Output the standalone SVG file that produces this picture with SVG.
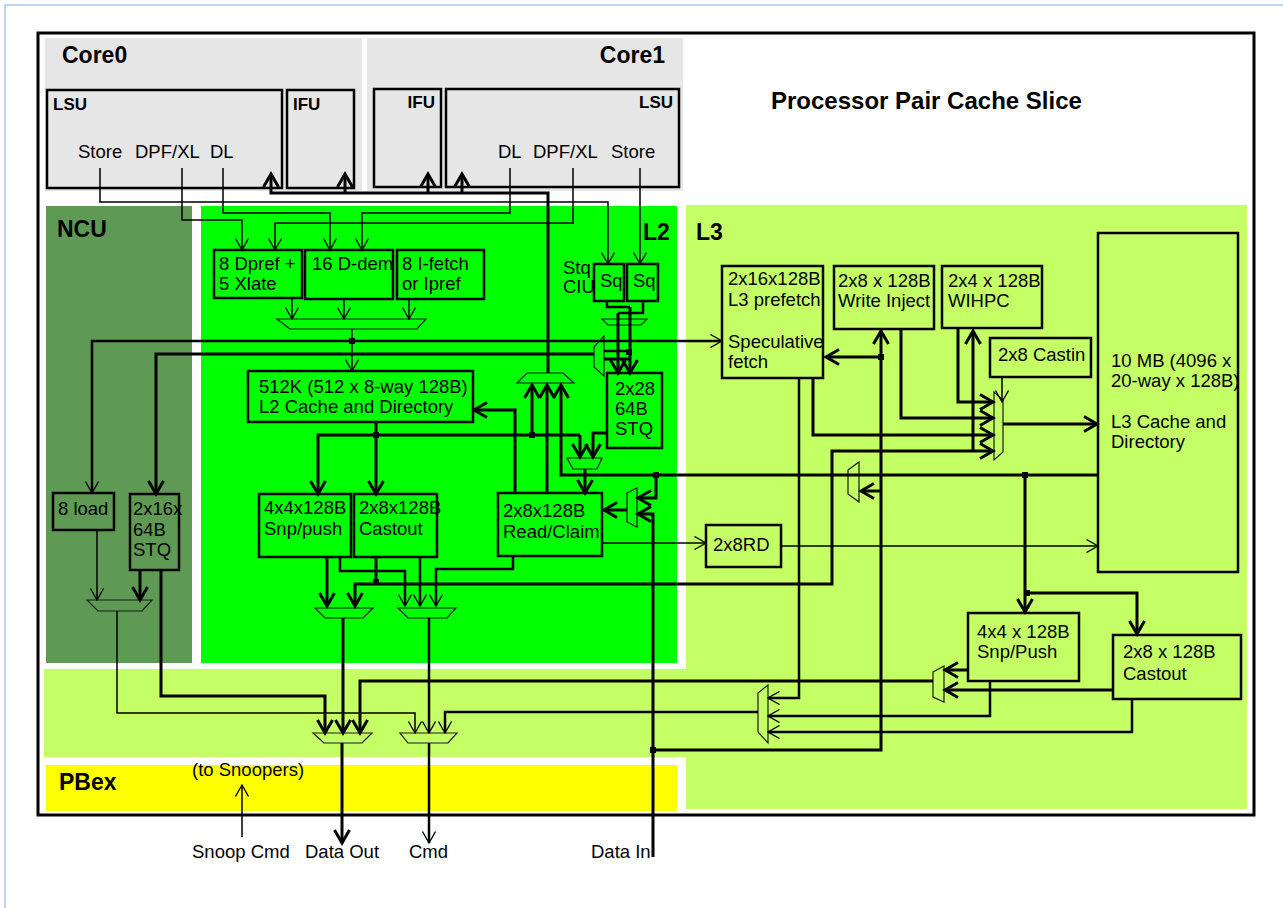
<svg xmlns="http://www.w3.org/2000/svg" width="1283" height="908" viewBox="0 0 1283 908">
<style>
.bx{fill:none;stroke:#000;stroke-width:2.5}
.t{font-family:"Liberation Sans",Arial,sans-serif;font-size:18.5px;fill:#000}
.h{font-family:"Liberation Sans",Arial,sans-serif;font-weight:bold;font-size:23px;fill:#000}
.s{font-family:"Liberation Sans",Arial,sans-serif;font-weight:bold;font-size:17px;fill:#000}
.c1{fill:none;stroke:#000;stroke-width:1.5}
.c2{fill:none;stroke:#000;stroke-width:2.5}
.c3{fill:none;stroke:#000;stroke-width:3}
.mux{fill:none;stroke:#1a1a1a;stroke-width:1.2}
.dot{fill:#000}
.ta{marker-end:url(#a)}
.tA{marker-end:url(#A)}
</style>
<defs>
<marker id="a" markerUnits="userSpaceOnUse" viewBox="0 0 14 14" markerWidth="14" markerHeight="14" refX="12.5" refY="7" orient="auto"><path d="M1,0.5 L12.5,7 L1,13.5" fill="none" stroke="#000" stroke-width="1.3"/></marker>
<marker id="A" markerUnits="userSpaceOnUse" viewBox="0 0 18 18" markerWidth="18" markerHeight="18" refX="15" refY="9" orient="auto"><path d="M2,1.5 L15,9 L2,16.5" fill="none" stroke="#000" stroke-width="3"/></marker>
</defs>
<rect width="1283" height="908" fill="#fff"/>
<path d="M5,908 V5 H1283" fill="none" stroke="#a6c8ee" stroke-width="1.5"/>
<g id="regions">
<rect x="45" y="38" width="317" height="153" fill="#e6e6e6"/>
<rect x="367" y="38" width="316" height="153" fill="#e6e6e6"/>
<rect x="46" y="206" width="146" height="457" fill="#5f9a55"/>
<rect x="201" y="206" width="476" height="457" fill="#00ff00"/>
<rect x="686" y="205" width="561" height="604" fill="#c4ff66"/>
<rect x="44" y="669" width="643" height="88" fill="#c4ff66"/>
<rect x="46" y="765" width="631" height="46" fill="#ffff00"/>
<rect x="38" y="33" width="1216" height="782" fill="none" stroke="#000" stroke-width="3"/>
</g>
<g id="labels">
<text class="t" x="771" y="109" style="font-weight:bold;font-size:24px">Processor Pair Cache Slice</text>
<text class="h" x="62" y="63">Core0</text>
<text class="h" x="665" y="63" text-anchor="end">Core1</text>
<text class="h" x="57" y="237">NCU</text>
<text class="h" x="643" y="240">L2</text>
<text class="h" x="696" y="240">L3</text>
<text class="h" x="59" y="790">PBex</text>
<text class="t" x="192" y="776">(to Snoopers)</text>
<text class="t" x="192" y="858">Snoop Cmd</text>
<text class="t" x="305" y="858">Data Out</text>
<text class="t" x="409" y="858">Cmd</text>
<text class="t" x="591" y="858">Data In</text>
<text class="t" x="563" y="274">Stq</text>
<text class="t" x="563" y="293">CIU</text>
</g>
<g id="core0-lsu">
<rect class="bx" x="47" y="90" width="235" height="98"/>
<text class="s" x="53" y="110">LSU</text>
<text class="t" x="78" y="158">Store</text>
<text class="t" x="135" y="158">DPF/XL</text>
<text class="t" x="210" y="158">DL</text>
</g>
<g id="core0-ifu">
<rect class="bx" x="287" y="90" width="67" height="98"/>
<text class="s" x="293" y="110">IFU</text>
</g>
<g id="core1-ifu">
<rect class="bx" x="374" y="89" width="67" height="98"/>
<text class="s" x="435" y="108" text-anchor="end">IFU</text>
</g>
<g id="core1-lsu">
<rect class="bx" x="446" y="89" width="233" height="98"/>
<text class="s" x="673" y="108" text-anchor="end">LSU</text>
<text class="t" x="498" y="158">DL</text>
<text class="t" x="533" y="158">DPF/XL</text>
<text class="t" x="611" y="158">Store</text>
</g>
<g id="dpref">
<rect class="bx" x="214" y="250" width="88" height="48"/>
<text class="t" x="219" y="270">8 Dpref +</text>
<text class="t" x="219" y="290">5 Xlate</text>
</g>
<g id="ddem">
<rect class="bx" x="305" y="250" width="88" height="49"/>
<text class="t" x="312" y="270">16 D-dem</text>
</g>
<g id="ifetch">
<rect class="bx" x="397" y="250" width="87" height="49"/>
<text class="t" x="402" y="270">8 I-fetch</text>
<text class="t" x="402" y="290">or Ipref</text>
</g>
<g id="sq0">
<rect class="bx" x="594" y="264" width="30" height="37"/>
<text class="t" x="600" y="287">Sq</text>
</g>
<g id="sq1">
<rect class="bx" x="627" y="264" width="31" height="37"/>
<text class="t" x="633" y="287">Sq</text>
</g>
<g id="l2cache">
<rect class="bx" x="248" y="371" width="225" height="51"/>
<text class="t" x="259" y="393">512K (512 x 8-way 128B)</text>
<text class="t" x="259" y="413">L2 Cache and Directory</text>
</g>
<g id="l2stq">
<rect class="bx" x="607" y="373" width="55" height="75"/>
<text class="t" x="615" y="395">2x28</text>
<text class="t" x="615" y="415">64B</text>
<text class="t" x="615" y="435">STQ</text>
</g>
<g id="l2snp">
<rect class="bx" x="259" y="494" width="92" height="63"/>
<text class="t" x="264" y="514">4x4x128B</text>
<text class="t" x="264" y="535">Snp/push</text>
</g>
<g id="l2castout">
<rect class="bx" x="354" y="494" width="83" height="63"/>
<text class="t" x="359" y="514">2x8x128B</text>
<text class="t" x="359" y="535">Castout</text>
</g>
<g id="readclaim">
<rect class="bx" x="498" y="493" width="104" height="63"/>
<text class="t" x="503" y="517">2x8x128B</text>
<text class="t" x="503" y="538">Read/Claim</text>
</g>
<g id="ncu-load">
<rect class="bx" x="53" y="493" width="61" height="37"/>
<text class="t" x="58" y="515">8 load</text>
</g>
<g id="ncu-stq">
<rect class="bx" x="130" y="494" width="49" height="76"/>
<text class="t" x="133" y="515">2x16x</text>
<text class="t" x="133" y="536">64B</text>
<text class="t" x="133" y="556">STQ</text>
</g>
<g id="rd">
<rect class="bx" x="706" y="525" width="75" height="42"/>
<text class="t" x="713" y="551">2x8RD</text>
</g>
<g id="l3pref">
<rect class="bx" x="722" y="266" width="101" height="112"/>
<text class="t" x="728" y="285">2x16x128B</text>
<text class="t" x="728" y="306">L3 prefetch</text>
<text class="t" x="728" y="348">Speculative</text>
<text class="t" x="728" y="368">fetch</text>
</g>
<g id="winject">
<rect class="bx" x="834" y="266" width="100" height="63"/>
<text class="t" x="838" y="287">2x8 x 128B</text>
<text class="t" x="838" y="307">Write Inject</text>
</g>
<g id="wihpc">
<rect class="bx" x="942" y="266" width="100" height="62"/>
<text class="t" x="948" y="287">2x4 x 128B</text>
<text class="t" x="948" y="307">WIHPC</text>
</g>
<g id="castin">
<rect class="bx" x="990" y="338" width="101" height="39"/>
<text class="t" x="998" y="361">2x8 Castin</text>
</g>
<g id="l3cache">
<rect class="bx" x="1098" y="233" width="140" height="339"/>
<text class="t" x="1111" y="367">10 MB (4096 x</text>
<text class="t" x="1111" y="387">20-way x 128B)</text>
<text class="t" x="1111" y="428">L3 Cache and</text>
<text class="t" x="1111" y="448">Directory</text>
</g>
<g id="l3snp">
<rect class="bx" x="968" y="613" width="111" height="68"/>
<text class="t" x="977" y="638">4x4 x 128B</text>
<text class="t" x="977" y="658">Snp/Push</text>
</g>
<g id="l3castout">
<rect class="bx" x="1113" y="635" width="128" height="64"/>
<text class="t" x="1123" y="658">2x8 x 128B</text>
<text class="t" x="1123" y="680">Castout</text>
</g>
<g id="muxes">
<polygon class="mux" points="277,319 426,319 417,329 290,329"/>
<polygon class="mux" points="602,319 647,319 641,325 608,325"/>
<polygon class="mux" points="594,347 604,336 604,376 594,367"/>
<polygon class="mux" points="527,373 563,373 574,383 517,383"/>
<polygon class="mux" points="567,458 602,458 597,469 573,469"/>
<polygon class="mux" points="627,493 637,488 637,527 627,522"/>
<polygon class="mux" points="87,600 152,600 142,611 98,611"/>
<polygon class="mux" points="315,608 373,608 363,618 325,618"/>
<polygon class="mux" points="398,608 456,608 447,618 408,618"/>
<polygon class="mux" points="313,733 372,733 362,743 324,743"/>
<polygon class="mux" points="400,733 457,733 448,743 408,743"/>
<polygon class="mux" points="994,392 1003,400 1003,452 994,460"/>
<polygon class="mux" points="848,470 859,462 859,502 848,494"/>
<polygon class="mux" points="933,672 944,666 944,702 933,697"/>
<polygon class="mux" points="758,693 768,685 768,743 758,732"/>
</g>
<g id="connectors">
<path class="c1 ta" d="M100,168 V202 H608 V264"/>
<path class="c1 ta" d="M182,168 V220 H242 V250"/>
<path class="c1 ta" d="M223,168 V213 H330 V250"/>
<path class="c1 ta" d="M510,168 V213 H362 V250"/>
<path class="c1 ta" d="M573,168 V223 H275 V250"/>
<path class="c1 ta" d="M640,168 V264"/>
<path class="c3 tA" d="M548,373 V193 H271 V174"/>
<path class="c3 tA" d="M345,193 V174"/>
<path class="c3 tA" d="M428,193 V174"/>
<path class="c3 tA" d="M462,193 V174"/>
<path class="c1 ta" d="M292,298 V319"/>
<path class="c1 ta" d="M344,299 V319"/>
<path class="c1 ta" d="M409,299 V319"/>
<path class="c1 ta" d="M352,329 V371"/>
<path class="c2 ta" d="M352,341 H92 V493"/>
<path class="c2 ta" d="M352,341 H722"/>
<path class="c3 tA" d="M594,354 H156 V494"/>
<path class="c1 ta" d="M97,530 V600"/>
<path class="c3 tA" d="M140,570 V600"/>
<path class="c1 ta" d="M117,611 V713 H415 V733"/>
<path class="c3 tA" d="M161,570 V696 H325 V733"/>
<path class="c2" d="M607,301 V307 H630"/>
<path class="c2" d="M643,301 V313 H618"/>
<path class="c3 tA" d="M630,307 V373"/>
<path class="c3 tA" d="M618,313 V373"/>
<path class="c2" d="M604,351 H630"/>
<path class="c3" d="M604,359 H630"/>
<path class="c3 tA" d="M607,433 H593 V457"/>
<path class="c3 tA" d="M376,422 V494"/>
<path class="c3 tA" d="M580,435 H318 V494"/>
<path class="c3 tA" d="M580,435 V457"/>
<path class="c3 tA" d="M532,435 V385"/>
<path class="c3 tA" d="M585,469 V493"/>
<path class="c3 tA" d="M547,493 V385"/>
<path class="c3 tA" d="M515,493 V410 H474"/>
<path class="c3 tA" d="M1098,475 H561 V385"/>
<path class="c3 tA" d="M656,475 V498 H638"/>
<path class="c3 tA" d="M653,857 V514 H638"/>
<path class="c3 tA" d="M627,510 H604"/>
<path class="c1 ta" d="M602,543 H706"/>
<path class="c1 ta" d="M781,546 H1098"/>
<path class="c2 ta" d="M513,556 V569 H436 V606"/>
<path class="c3 tA" d="M327,557 V606"/>
<path class="c2 ta" d="M340,557 V571 H405 V606"/>
<path class="c3" d="M376,557 V584"/>
<path class="c2 ta" d="M420,557 V606"/>
<path class="c3 tA" d="M376,584 H355 V606"/>
<path class="c3 tA" d="M376,584 H832 V451 H993"/>
<path class="c3 tA" d="M973,451 V331"/>
<path class="c3 tA" d="M343,618 V733"/>
<path class="c2 ta" d="M429,618 V733"/>
<path class="c3 tA" d="M342,743 V843"/>
<path class="c2 ta" d="M429,743 V843"/>
<path class="c3 tA" d="M933,681 H360 V733"/>
<path class="c2 ta" d="M758,712 H445 V733"/>
<path class="c1 ta" d="M242,837 V785"/>
<path class="c2 ta" d="M799,378 V698 H768"/>
<path class="c3 tA" d="M813,378 V435 H993"/>
<path class="c3 tA" d="M901,329 V418 H993"/>
<path class="c3 tA" d="M958,328 V402 H993"/>
<path class="c1 ta" d="M1002,377 V402"/>
<path class="c3 tA" d="M1003,424 H1097"/>
<path class="c3 tA" d="M653,750 H881 V331"/>
<path class="c3 tA" d="M881,357 H826"/>
<path class="c3 tA" d="M881,491 H861"/>
<path class="c3 tA" d="M1025,475 V612"/>
<path class="c3 tA" d="M1025,593 H1137 V634"/>
<path class="c3 tA" d="M968,670 H945"/>
<path class="c3 tA" d="M1113,690 H945"/>
<path class="c2 ta" d="M990,681 V716 H768"/>
<path class="c2 ta" d="M1132,699 V732 H768"/>
<rect class="dot" x="349" y="338" width="6" height="6"/>
<rect class="dot" x="373" y="432" width="6" height="6"/>
<rect class="dot" x="529" y="432" width="6" height="6"/>
<rect class="dot" x="626" y="349" width="6" height="6"/>
<rect class="dot" x="653" y="472" width="6" height="6"/>
<rect class="dot" x="1022" y="472" width="6" height="6"/>
<rect class="dot" x="1024" y="590" width="6" height="6"/>
<rect class="dot" x="878" y="354" width="6" height="6"/>
<rect class="dot" x="650" y="747" width="6" height="6"/>
<rect class="dot" x="373" y="579" width="6" height="6"/>
</g>
</svg>
